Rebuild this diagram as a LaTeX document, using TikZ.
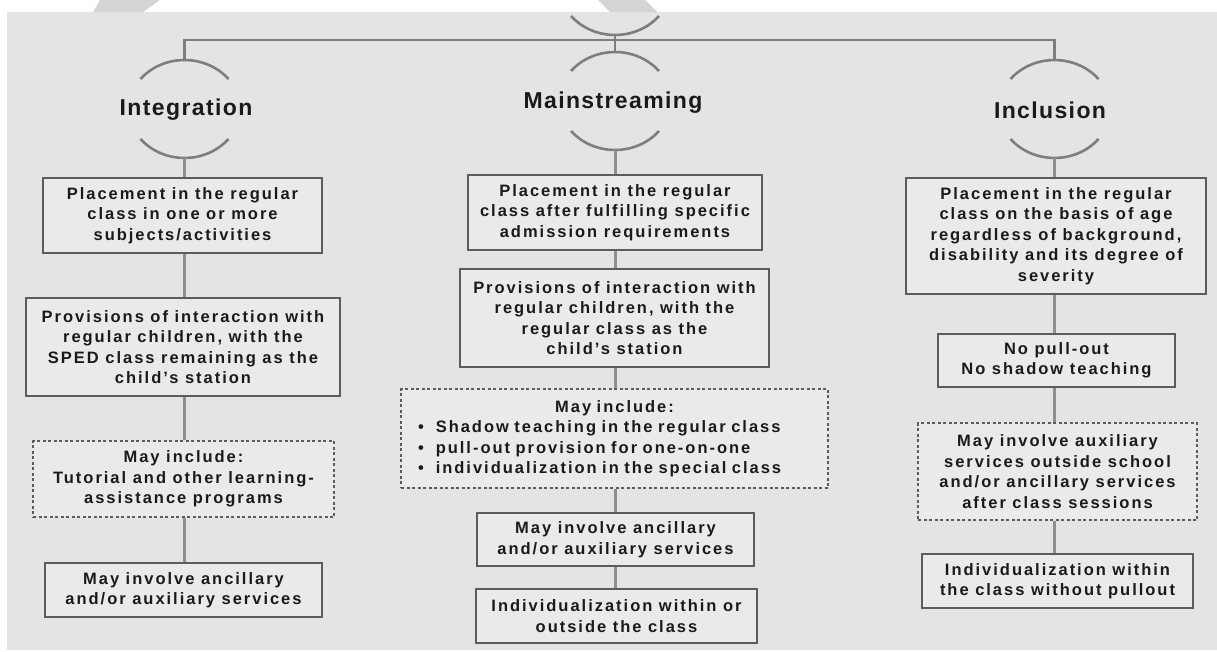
\documentclass[tikz,border=0pt]{standalone}
\usepackage{fontspec}
\setmainfont{Liberation Sans}[LetterSpace=12]
\newfontfamily\titlefont{Liberation Sans}[LetterSpace=6]
\definecolor{bg}{HTML}{E4E4E4}
\definecolor{boxfill}{HTML}{EAEAEA}
\definecolor{boxline}{HTML}{5C5C5C}
\definecolor{connc}{HTML}{8E8E8E}
\definecolor{treec}{HTML}{7E7E7E}
\definecolor{txt}{HTML}{1A1A1A}
\definecolor{wm}{HTML}{D4D4D4}
\tikzset{
  box/.style={draw=boxline, line width=1.4pt, fill=boxfill, align=center, inner sep=0pt,
    font=\fontsize{16.5}{20.5}\selectfont\bfseries, text=txt},
  dbox/.style={box, dash pattern=on 3pt off 2.5pt, line width=1.1pt},
  connector/.style={draw=connc, line width=3pt},
  treeline/.style={draw=treec, line width=2.6pt},
  titletext/.style={font=\titlefont\fontsize{23}{27}\selectfont\bfseries, text=txt, inner sep=0pt},
  frownarc/.pic={\draw[treeline] (-44,19) .. controls (-21,-6.3) and (21,-6.3) .. (44,19);},
  smilearc/.pic={\draw[treeline] (-44,-19) .. controls (-21,6.3) and (21,6.3) .. (44,-19);}
}
\begin{document}
\begin{tikzpicture}[x=1pt,y=-1pt]
\useasboundingbox (0,0) rectangle (1217,651);
\fill[white] (0,0) rectangle (1217,651);
\fill[bg] (7,12) rectangle (1217,650);
% watermark remnants in the top strip
\begin{scope}
\clip (0,0) rectangle (1217,12);
\fill[wm] (100,0) -- (160,0) -- (143,12) -- (93,12) -- cycle;
\fill[wm] (598,0) -- (645,0) -- (657,12) -- (610,12) -- cycle;
\end{scope}

% column axes
\coordinate (icol) at (184.5,0);
\coordinate (mcol) at (615,0);
\coordinate (ccol) at (1054.5,0);

% tree skeleton
\coordinate (tsm) at (615,35);
\coordinate (hl) at (184.5,40);
\coordinate (hr) at (1054.5,40);
\coordinate (itop) at (184.5,60);
\coordinate (mtop) at (615,52);
\coordinate (ctop) at (1054.5,60);
\coordinate (ibot) at (184.5,158);
\coordinate (mbot) at (615,150);
\coordinate (cbot) at (1054.5,158);
\pic at (tsm) {smilearc};
\pic at (itop) {frownarc};
\pic at (mtop) {frownarc};
\pic at (ctop) {frownarc};
\pic at (ibot) {smilearc};
\pic at (mbot) {smilearc};
\pic at (cbot) {smilearc};
\draw[treeline] (itop) -- (hl) -- (hr) -- (ctop);
\draw[treeline] (tsm) -- (mtop);

\node[titletext] (tint) at (186,110) {Integration};
\node[titletext] (tmain) at (613,103) {Mainstreaming};
\node[titletext] (tinc) at (1050,110) {Inclusion};

% Integration column
\node[box, minimum width=279pt, minimum height=75pt] (i1) at (182.5,215.5)
  {Placement in the regular\\class in one or more\\subjects/activities};
\node[box, minimum width=314pt, minimum height=98pt] (i2) at (183,347)
  {Provisions of interaction with\\regular children, with the\\SPED class remaining as the\\child's station};
\node[dbox, minimum width=301pt, minimum height=76pt] (i3) at (183.5,479)
  {May include:\\Tutorial and other learning-\\assistance programs};
\node[box, minimum width=277pt, minimum height=54pt] (i4) at (183.5,590)
  {May involve ancillary\\and/or auxiliary services};

% Mainstreaming column
\node[box, minimum width=294pt, minimum height=75pt] (m1) at (615,212.5)
  {Placement in the regular\\class after fulfilling specific\\admission requirements};
\node[box, minimum width=309pt, minimum height=98pt] (m2) at (614.5,318)
  {Provisions of interaction with\\regular children, with the\\regular class as the\\child's station};
\node[dbox, minimum width=427pt, minimum height=99pt, text width=393pt, align=left] (m3) at (614.5,438.5)
  {\hfill May include:\hfill\null\\
   \textbullet\hspace{12pt}Shadow teaching in the regular class\\
   \textbullet\hspace{12pt}pull-out provision for one-on-one\\
   \textbullet\hspace{12pt}individualization in the special class};
\node[box, minimum width=277pt, minimum height=53pt] (m4) at (615.5,539.5)
  {May involve ancillary\\and/or auxiliary services};
\node[box, minimum width=281pt, minimum height=54pt] (m5) at (616.5,616)
  {Individualization within or\\outside the class};

% Inclusion column
\node[box, minimum width=300pt, minimum height=116pt] (c1) at (1056,236)
  {Placement in the regular\\class on the basis of age\\regardless of background,\\disability and its degree of\\severity};
\node[box, minimum width=237pt, minimum height=53pt] (c2) at (1056.5,360.5)
  {No pull-out\\No shadow teaching};
\node[dbox, minimum width=279pt, minimum height=97pt] (c3) at (1057.5,471.5)
  {May involve auxiliary\\services outside school\\and/or ancillary services\\after class sessions};
\node[box, minimum width=271pt, minimum height=54pt] (c4) at (1057.5,581)
  {Individualization within\\the class without pullout};

% connectors
\draw[connector] (ibot) -- (i1.north -| icol);
\draw[connector] (i1.south -| icol) -- (i2.north -| icol);
\draw[connector] (i2.south -| icol) -- (i3.north -| icol);
\draw[connector] (i3.south -| icol) -- (i4.north -| icol);
\draw[connector] (mbot) -- (m1.north -| mcol);
\draw[connector] (m1.south -| mcol) -- (m2.north -| mcol);
\draw[connector] (m2.south -| mcol) -- (m3.north -| mcol);
\draw[connector] (m3.south -| mcol) -- (m4.north -| mcol);
\draw[connector] (m4.south -| mcol) -- (m5.north -| mcol);
\draw[connector] (cbot) -- (c1.north -| ccol);
\draw[connector] (c1.south -| ccol) -- (c2.north -| ccol);
\draw[connector] (c2.south -| ccol) -- (c3.north -| ccol);
\draw[connector] (c3.south -| ccol) -- (c4.north -| ccol);
\end{tikzpicture}
\end{document}
